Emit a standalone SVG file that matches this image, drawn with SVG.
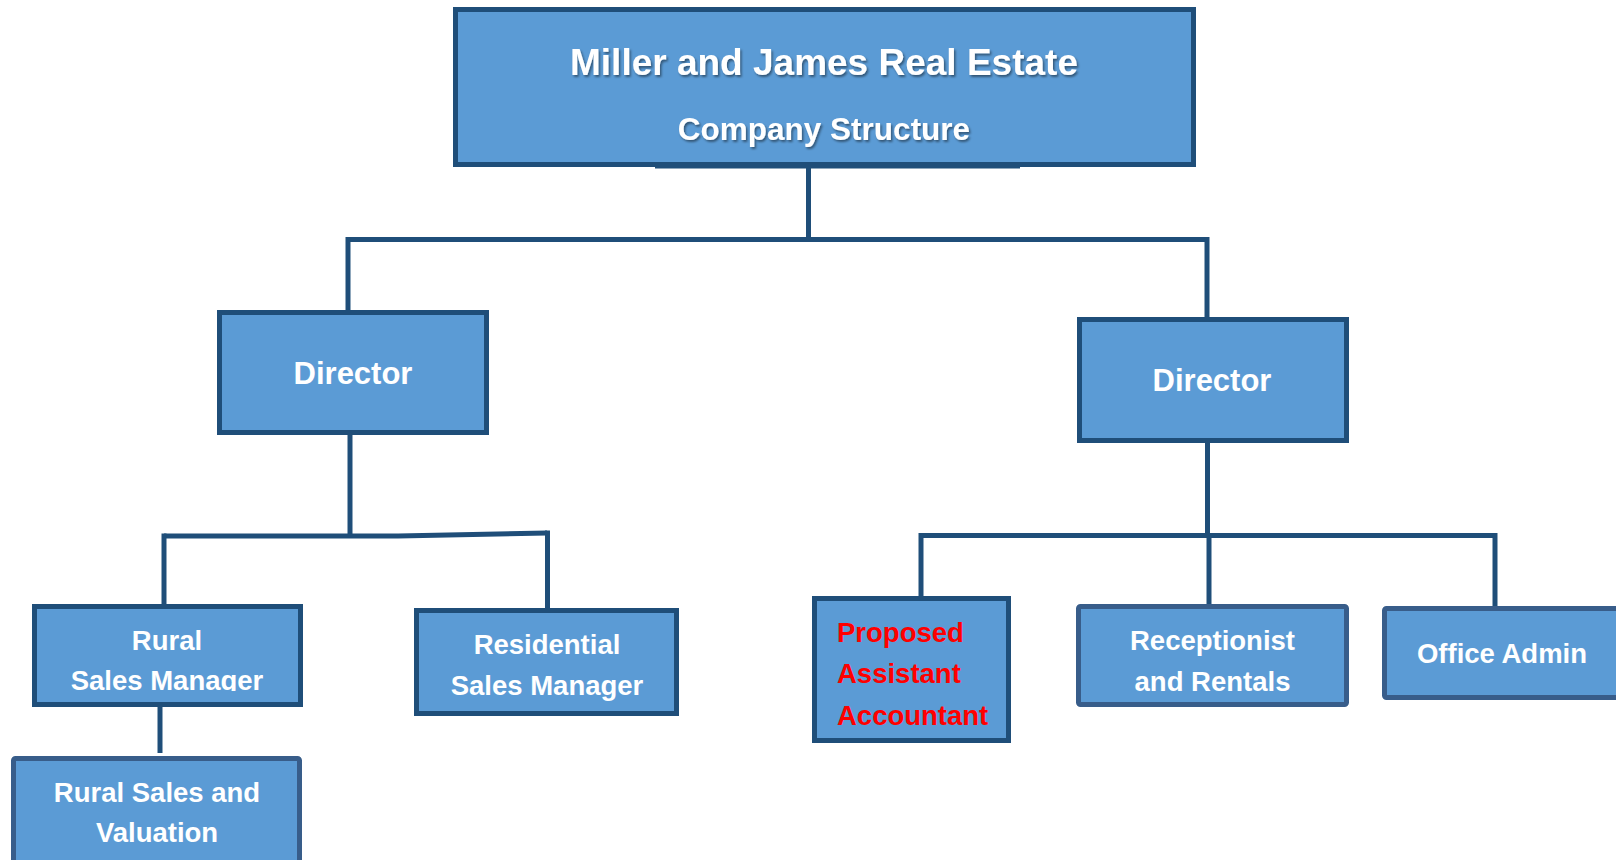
<svg xmlns="http://www.w3.org/2000/svg" width="1616" height="860" viewBox="0 0 1616 860">
  <style>
    .box { fill: #5B9BD5; stroke: #1F4E79; stroke-width: 5; }
    .box-soft { fill: #5B9BD5; stroke: #385D8A; stroke-width: 5; }
    .lbl { font-family: "Liberation Sans", Arial, sans-serif; font-weight: bold; fill: #FFFFFF; text-anchor: middle; }
    .lbl-red { font-family: "Liberation Sans", Arial, sans-serif; font-weight: bold; fill: #FF0000; }
    .wire { fill: none; stroke: #1F4E79; stroke-width: 5; }
  </style>
  <defs>
    <filter id="shadow" x="-5%" y="-20%" width="110%" height="150%">
      <feDropShadow dx="1.5" dy="2" stdDeviation="1" flood-color="#000000" flood-opacity="0.45"/>
    </filter>
    <clipPath id="clip-rural">
      <rect x="37" y="609" width="261" height="82"/>
    </clipPath>
  </defs>

  <rect width="1616" height="860" fill="#FFFFFF"/>

  <!-- connectors -->
  <g id="connectors">
    <path class="wire" d="M808.5 165 V239.5"/>
    <path class="wire" d="M348 239.5 H1208"/>
    <path class="wire" d="M348 237 V311"/>
    <path class="wire" d="M1207 237 V318"/>
    <!-- left director branch -->
    <path class="wire" d="M350 434 V536"/>
    <path class="wire" d="M164 536 H398 L547 533"/>
    <path class="wire" d="M164 533.5 V606"/>
    <path class="wire" d="M547.5 530.5 V614"/>
    <path class="wire" d="M160 706 V753"/>
    <!-- right director branch -->
    <path class="wire" d="M1207.5 442 V536"/>
    <path class="wire" d="M921 535.5 H1495"/>
    <path class="wire" d="M921 533 V598"/>
    <path class="wire" d="M1209 533 V606"/>
    <path class="wire" d="M1495 533 V608"/>
  </g>

  <!-- company heading -->
  <g id="company">
    <rect class="box" x="455.5" y="9.5" width="738" height="155"/>
    <rect x="655" y="165" width="365" height="3.5" fill="#1F4E79"/>
    <g filter="url(#shadow)">
      <text class="lbl" x="824" y="75" font-size="37">Miller and James Real Estate</text>
      <text class="lbl" x="824" y="140" font-size="31.5">Company Structure</text>
    </g>
  </g>

  <g id="director-left">
    <rect class="box" x="219.5" y="312.5" width="267" height="120"/>
    <text class="lbl" x="353" y="384" font-size="31">Director</text>
  </g>

  <g id="director-right">
    <rect class="box" x="1079.5" y="319.5" width="267" height="121"/>
    <text class="lbl" x="1212" y="391" font-size="31">Director</text>
  </g>

  <g id="rural-sales-manager">
    <rect class="box" x="34.5" y="606.5" width="266" height="98"/>
    <g clip-path="url(#clip-rural)">
      <text class="lbl" x="167" y="650" font-size="27.5">Rural</text>
      <text class="lbl" x="167" y="689.5" font-size="27.5">Sales Manager</text>
    </g>
  </g>

  <g id="residential-sales-manager">
    <rect class="box" x="416.5" y="610.5" width="260" height="103"/>
    <text class="lbl" x="547" y="654" font-size="27.5">Residential</text>
    <text class="lbl" x="547" y="695" font-size="27.5">Sales Manager</text>
  </g>

  <g id="rural-sales-valuation">
    <rect class="box-soft" x="13.5" y="758.5" width="286" height="130" rx="2"/>
    <text class="lbl" x="157" y="802" font-size="27.5">Rural Sales and</text>
    <text class="lbl" x="157" y="842" font-size="27.5">Valuation</text>
  </g>

  <g id="assistant-accountant">
    <rect class="box" x="814.5" y="598.5" width="194" height="142"/>
    <text class="lbl-red" x="837" y="642" font-size="27.5">Proposed</text>
    <text class="lbl-red" x="837" y="683" font-size="27.5">Assistant</text>
    <text class="lbl-red" x="837" y="725" font-size="27.5">Accountant</text>
  </g>

  <g id="receptionist">
    <rect class="box-soft" x="1078.5" y="606.5" width="268" height="98" rx="2"/>
    <text class="lbl" x="1212.5" y="650" font-size="27.5">Receptionist</text>
    <text class="lbl" x="1212.5" y="691" font-size="27.5">and Rentals</text>
  </g>

  <g id="office-admin">
    <rect class="box-soft" x="1384.5" y="608.5" width="300" height="89" rx="2"/>
    <text class="lbl" x="1502" y="663" font-size="27.5">Office Admin</text>
  </g>
</svg>
